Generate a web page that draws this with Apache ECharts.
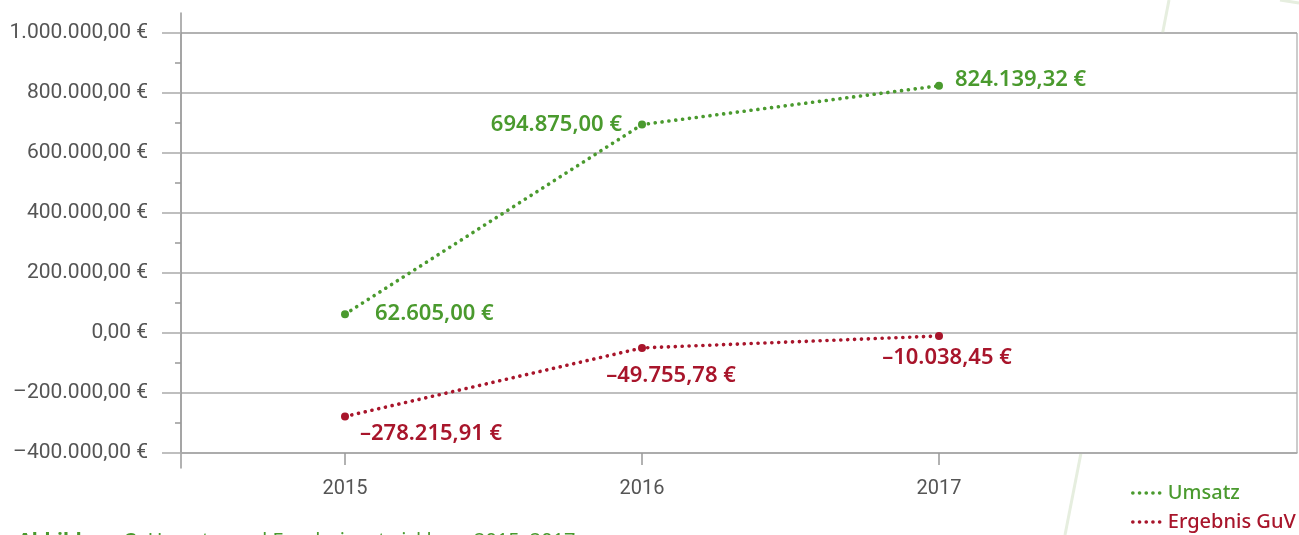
<!DOCTYPE html>
<html>
<head>
<meta charset="utf-8">
<script src="https://cdn.jsdelivr.net/npm/echarts@6/dist/echarts.min.js"></script>
<style>
  html, body { margin: 0; padding: 0; background: #fff; }
  #chart { width: 1299px; height: 535px; }
</style>
</head>
<body>
<div id="chart"></div>
<script>
// Jahre und Werte
const years = [2015, 2016, 2017];
const umsatz = [62605.00, 694875.00, 824139.32];
const ergebnis = [-278215.91, -49755.78, -10038.45];
const seriesNames = ['Umsatz', 'Ergebnis GuV'];
const yTicks = [-400000, -200000, 0, 200000, 400000, 600000, 800000, 1000000];

const green = '#4a9a2e';
const red = '#a8152b';
const grey = '#555';

// Zahl im deutschen Format, z.B. 1.000.000,00 €
function euro(v) {
  const neg = v < 0;
  const parts = Math.abs(v).toFixed(2).split('.');
  const int = parts[0].replace(/\B(?=(\d{3})+(?!\d))/g, '.');
  return (neg ? '–' : '') + int + ',' + parts[1] + ' €';
}

// Beschriftung pro Punkt
const umsatzLabels = [
  { position: 'right', distance: 26 },
  { position: 'left', distance: 16 },
  { position: 'right', distance: 12, offset: [0, -6] }
];
const ergebnisLabels = [
  { position: 'right', distance: 11, offset: [0, 17] },
  { position: 'bottom', distance: 13, offset: [29, 0] },
  { position: 'bottom', distance: 7, offset: [8, 0] }
];

function build(values, labels) {
  return values.map((v, i) => ({ value: [years[i], v], label: labels[i] }));
}

const dotted = color => ({ type: [0.1, 6.8], width: 3.6, cap: 'round', color: color });

function legendFor(i, color, top) {
  return {
    left: 1126,
    top: top,
    itemWidth: 32,
    itemHeight: 12,
    itemStyle: { opacity: 0 },
    lineStyle: { width: 3.6, type: [0.1, 6.6], cap: 'round' },
    textStyle: { fontFamily: 'Noto Sans', fontSize: 20, fontWeight: 500, color: color, padding: [0, 0, 0, -2] },
    data: [seriesNames[i]]
  };
}

const chart = echarts.init(document.getElementById('chart'));

chart.setOption({
  animation: false,
  backgroundColor: '#fff',
  textStyle: { fontFamily: 'Roboto' },
  graphic: [
    { type: 'line', shape: { x1: 1169, y1: 0, x2: 1162.6, y2: 33 }, style: { stroke: '#e6eedf', lineWidth: 3 } },
    { type: 'line', shape: { x1: 1081, y1: 453, x2: 1065, y2: 535 }, style: { stroke: '#e6eedf', lineWidth: 3 } },
    { type: 'line', shape: { x1: 1280, y1: 0, x2: 1299, y2: 3 }, style: { stroke: '#e6eedf', lineWidth: 3 } }
  ],
  title: {
    left: 13,
    top: 526,
    text: '{b|Abbildung 3:} Umsatz- und Ergebnisentwicklung 2015–2017',
    textStyle: {
      fontFamily: 'Noto Sans', fontSize: 20, fontWeight: 'normal', color: green,
      rich: { b: { fontFamily: 'Noto Sans', fontSize: 20, fontWeight: 'bold', color: green } }
    }
  },
  legend: [
    legendFor(0, green, 478),
    legendFor(1, red, 507)
  ],
  grid: [
    { left: 181, right: 2, top: 33, bottom: 82, show: true, borderColor: '#999', borderWidth: 1, backgroundColor: '#fff' },
    { left: 181, right: 2, top: 13, bottom: 67 }
  ],
  xAxis: [
    {
      type: 'value',
      gridIndex: 0,
      min: 2015 - 164 / 297,
      max: 2015 + 952 / 297,
      splitLine: { show: false },
      axisLine: { show: true, onZero: false, lineStyle: { color: '#aaa', width: 1.5 } },
      axisTick: { show: true, length: 12, customValues: years, lineStyle: { color: '#999', width: 1.5 } },
      axisLabel: { customValues: years, margin: 26, fontSize: 20, color: grey, formatter: v => String(v) }
    },
    { type: 'value', gridIndex: 1, show: false }
  ],
  yAxis: [
    {
      type: 'value',
      gridIndex: 0,
      min: yTicks[0],
      max: yTicks[yTicks.length - 1],
      interval: 200000,
      axisLine: { show: false },
      axisTick: { show: true, length: 19, lineStyle: { color: '#aaa', width: 1.5 } },
      minorTick: { show: true, splitNumber: 2, length: 6, lineStyle: { color: '#999', width: 1.5 } },
      splitLine: { show: true, lineStyle: { color: '#aaa', width: 1.5 } },
      axisLabel: { margin: 33, fontSize: 21, color: grey, formatter: v => euro(v) }
    },
    {
      type: 'value',
      gridIndex: 1,
      min: 0,
      max: 1,
      axisLine: { show: true, lineStyle: { color: '#999', width: 1.5 } },
      axisTick: { show: false },
      axisLabel: { show: false },
      splitLine: { show: false }
    }
  ],
  series: [
    {
      name: seriesNames[0],
      type: 'line',
      data: build(umsatz, umsatzLabels),
      symbol: 'circle',
      symbolSize: 8,
      color: green,
      lineStyle: dotted(green),
      label: {
        show: true, color: green, fontFamily: 'Noto Sans', fontSize: 22, fontWeight: 600,
        formatter: p => euro(p.value[1])
      },
      z: 3
    },
    {
      name: seriesNames[1],
      type: 'line',
      data: build(ergebnis, ergebnisLabels),
      symbol: 'circle',
      symbolSize: 8,
      color: red,
      lineStyle: dotted(red),
      label: {
        show: true, color: red, fontFamily: 'Noto Sans', fontSize: 22, fontWeight: 600,
        formatter: p => euro(p.value[1])
      },
      z: 3
    }
  ]
});
</script>
</body>
</html>
